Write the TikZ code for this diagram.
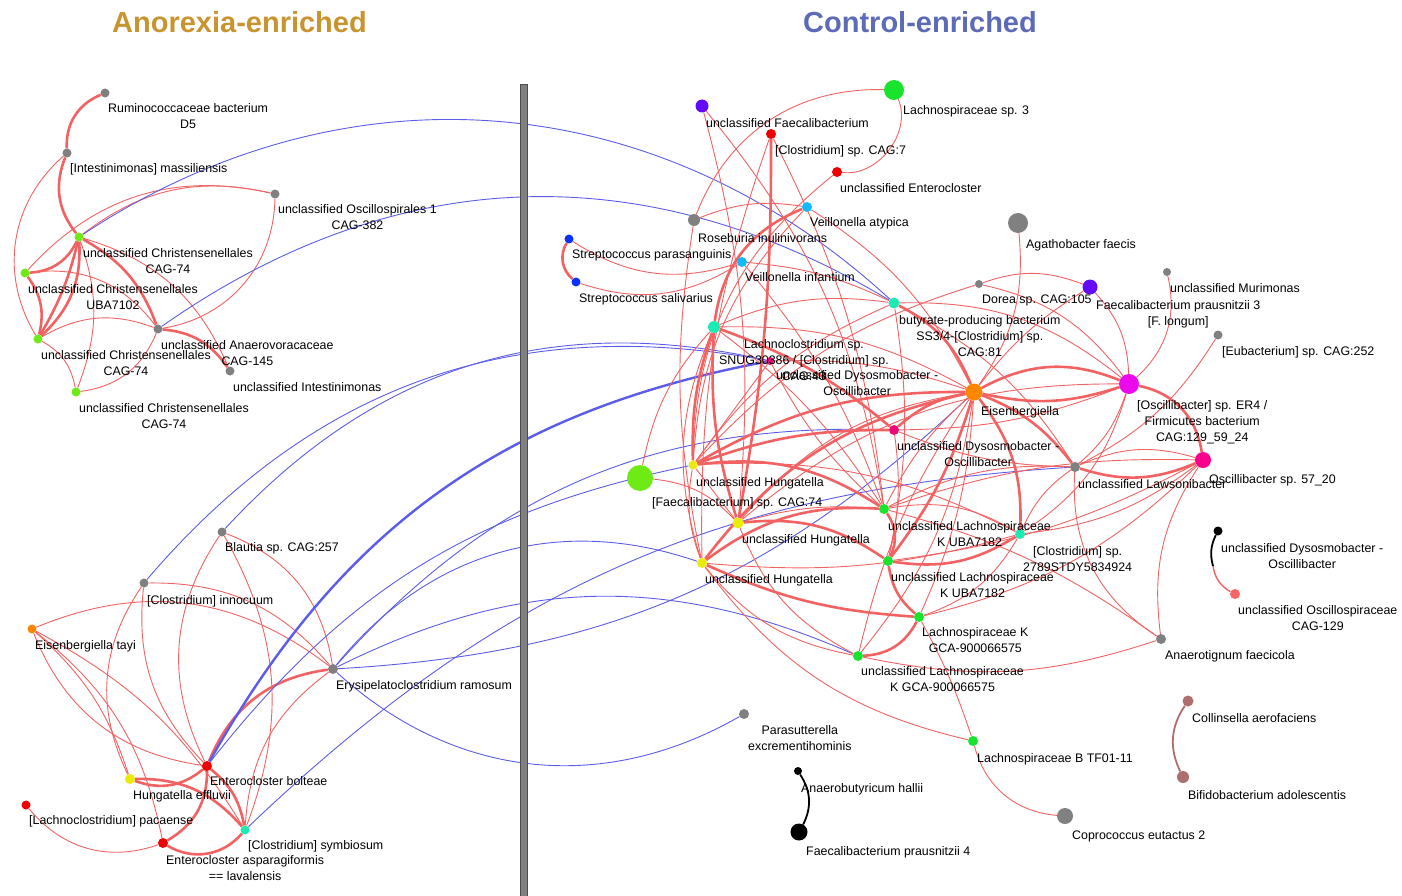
\documentclass[tikz,border=0pt]{standalone}
\usepackage{fontspec}
\setmainfont{Liberation Sans}
\newcommand\lblfont{\fontsize{12.4}{16}\selectfont}
\newcommand\ttlfont{\fontsize{29}{32}\selectfont\bfseries}
\definecolor{ngray}{RGB}{128,128,128}
\definecolor{nlime}{RGB}{110,235,20}
\definecolor{ngreen}{RGB}{25,228,45}
\definecolor{naqua}{RGB}{30,235,180}
\definecolor{nlblue}{RGB}{20,185,250}
\definecolor{nblue}{RGB}{10,50,250}
\definecolor{npurple}{RGB}{100,10,250}
\definecolor{nmag}{RGB}{235,10,235}
\definecolor{ndpink}{RGB}{250,0,140}
\definecolor{npink}{RGB}{235,10,120}
\definecolor{norange}{RGB}{255,135,0}
\definecolor{nyellow}{RGB}{235,235,10}
\definecolor{nred}{RGB}{240,0,0}
\definecolor{nsalmon}{RGB}{250,100,100}
\definecolor{nbrown}{RGB}{175,110,110}
\definecolor{tgold}{RGB}{200,148,48}
\definecolor{tblue}{RGB}{92,106,184}
\definecolor{edgered}{RGB}{242,98,98}
\definecolor{edgeblue}{RGB}{92,92,235}
\pgfdeclarelayer{edges}
\pgfsetlayers{edges,main}
\tikzset{
  nd/.style 2 args={circle, fill=#1, draw=none, inner sep=0pt, minimum size=#2},
  lab/.style={anchor=north west, align=center, inner sep=0pt, font=\lblfont, text height=9pt, yshift=4.5pt},
  labb/.style={lab, yshift=-16pt},
  labc/.style={lab, yshift=-32pt},
  ttl/.style={anchor=base, inner sep=0pt, font=\ttlfont},
  re/.style={draw=edgered, line width=0.9pt},
  reT/.style={draw=edgered, line width=2.6pt},
  be/.style={draw=edgeblue, line width=0.9pt},
  beT/.style={draw=edgeblue, line width=2.4pt},
  bke/.style={draw=black, line width=1.8pt},
  bre/.style={draw=nbrown, line width=1.8pt},
  divider/.style={fill=ngray, draw=black!70, line width=0.8pt},
}
\begin{document}
\begin{tikzpicture}[x=1pt,y=-1pt]
\useasboundingbox (0,0) rectangle (1402,896);
% titles
\node[ttl, text=tgold] (t1) at (239.5,33) {Anorexia-enriched};
\node[ttl, text=tblue] (t2) at (920,33) {Control-enriched};
% divider
\path[divider] (520,84) rectangle (527,897);
% ---------- left nodes
\node[nd={ngray}{9}] (rum) at (105,93) {};
\node[nd={ngray}{9}] (intm) at (67,153) {};
\node[nd={ngray}{9}] (osc1) at (275,194) {};
\node[nd={nlime}{9}] (chra) at (79,237) {};
\node[nd={nlime}{9}] (uba) at (25,273) {};
\node[nd={ngray}{9}] (anv) at (158,329) {};
\node[nd={nlime}{9}] (chrb) at (38,339) {};
\node[nd={ngray}{9}] (uint) at (230,371) {};
\node[nd={nlime}{9}] (chrc) at (76,392) {};
\node[nd={ngray}{9}] (blau) at (222,532) {};
\node[nd={ngray}{9}] (inno) at (144,583) {};
\node[nd={norange}{9}] (eist) at (32,629) {};
\node[nd={ngray}{10}] (erys) at (333,669) {};
\node[nd={nred}{10}] (entb) at (207,766) {};
\node[nd={nyellow}{10}] (heff) at (130,779) {};
\node[nd={nred}{9}] (lpac) at (26,805) {};
\node[nd={naqua}{9}] (symb) at (245,830) {};
\node[nd={nred}{10}] (easp) at (163,843) {};
% ---------- right nodes
\node[nd={npurple}{13}] (ufae) at (702,106) {};
\node[nd={ngreen}{20}] (lach3) at (894,90) {};
\node[nd={nred}{10}] (cc7) at (771,134) {};
\node[nd={nred}{10}] (uent) at (837,172) {};
\node[nd={nlblue}{10}] (veia) at (807,207) {};
\node[nd={ngray}{12}] (rose) at (694,220) {};
\node[nd={nblue}{9}] (strp) at (569,239) {};
\node[nd={nlblue}{10}] (veii) at (742,262) {};
\node[nd={nblue}{9}] (strs) at (576,282) {};
\node[nd={ngray}{8}] (dore) at (979,284) {};
\node[nd={naqua}{11}] (but) at (894,303) {};
\node[nd={ngray}{20}] (agat) at (1018,223) {};
\node[nd={npurple}{15}] (fp3) at (1090,287) {};
\node[nd={ngray}{8}] (muri) at (1167,272) {};
\node[nd={ngray}{9}] (eub) at (1218,335) {};
\node[nd={nmag}{20}] (oer4) at (1129,384) {};
\node[nd={ndpink}{16}] (o57) at (1203,460) {};
\node[nd={ngray}{10}] (law) at (1075,467) {};
\node[nd={norange}{17}] (eis) at (974,392) {};
\node[nd={npink}{10}] (pd2) at (894,430) {};
\node[nd={naqua}{12}] (lcl) at (714,327) {};
\node[nd={npink}{8}] (pd1) at (770,361) {};
\node[nd={nlime}{26}] (fc74) at (640,478) {};
\node[nd={nyellow}{9}] (h1) at (693,465) {};
\node[nd={nyellow}{11}] (h2) at (738,523) {};
\node[nd={nyellow}{10}] (h3) at (702,563) {};
\node[nd={ngreen}{10}] (lk1) at (884,509) {};
\node[nd={ngreen}{10}] (lk2) at (888,561) {};
\node[nd={naqua}{10}] (c27) at (1020,534) {};
\node[nd={ngreen}{10}] (lkg) at (919,617) {};
\node[nd={ngreen}{10}] (ulkg) at (858,656) {};
\node[nd={ngray}{10}] (atig) at (1161,639) {};
\node[nd={black}{9}] (dysb) at (1218,531) {};
\node[nd={nsalmon}{10}] (o129) at (1235,594) {};
\node[nd={ngray}{10}] (para) at (744,714) {};
\node[nd={ngreen}{10}] (lb) at (973,741) {};
\node[nd={black}{8}] (ahal) at (798,771) {};
\node[nd={black}{17}] (fp4) at (799,832) {};
\node[nd={ngray}{16}] (cope) at (1065,816) {};
\node[nd={nbrown}{11}] (coll) at (1188,701) {};
\node[nd={nbrown}{12}] (bifi) at (1183,777) {};
\coordinate (dmid) at (1213,566);
% ---------- labels
\node[labb] (lrum) at (108,108) {Ruminococcaceae bacterium\\D5};
\node[lab] (lintm) at (70,168) {[Intestinimonas] massiliensis};
\node[labb] (losc1) at (278,209) {unclassified Oscillospirales 1\\CAG-382};
\node[labb] (lchra) at (83,253) {unclassified Christensenellales\\CAG-74};
\node[labb] (luba) at (28,289) {unclassified Christensenellales\\UBA7102};
\node[labb] (lanv) at (161,345) {unclassified Anaerovoracaceae\\CAG-145};
\node[labb] (lchrb) at (41,355) {unclassified Christensenellales\\CAG-74};
\node[lab] (luint) at (233,387) {unclassified Intestinimonas};
\node[labb] (lchrc) at (79,408) {unclassified Christensenellales\\CAG-74};
\node[lab] (lblau) at (225,547) {Blautia sp. CAG:257};
\node[lab] (linno) at (147,600) {[Clostridium] innocuum};
\node[lab] (leist) at (35,645) {Eisenbergiella tayi};
\node[lab] (lerys) at (336,685) {Erysipelatoclostridium ramosum};
\node[lab] (lentb) at (210,781) {Enterocloster bolteae};
\node[lab] (lheff) at (133,795) {Hungatella effluvii};
\node[lab] (llpac) at (29,820) {[Lachnoclostridium] pacaense};
\node[lab] (lsymb) at (248,845) {[Clostridium] symbiosum};
\node[labb] (leasp) at (166,860) {Enterocloster asparagiformis\\== lavalensis};
\node[lab] (lufae) at (706,123) {unclassified Faecalibacterium};
\node[lab] (llach3) at (903,110) {Lachnospiraceae sp. 3};
\node[lab] (lcc7) at (775,150) {[Clostridium] sp. CAG:7};
\node[lab] (luent) at (840,188) {unclassified Enterocloster};
\node[lab] (lveia) at (810,222) {Veillonella atypica};
\node[lab] (lrose) at (698,238) {Roseburia inulinivorans};
\node[lab] (lstrp) at (572,254) {Streptococcus parasanguinis};
\node[lab] (lveii) at (745,277) {Veillonella infantium};
\node[lab] (lstrs) at (579,298) {Streptococcus salivarius};
\node[lab] (ldore) at (982,299) {Dorea sp. CAG:105};
\node[labc] (lbut) at (899,320) {butyrate-producing bacterium\\SS3/4-[Clostridium] sp.\\CAG:81};
\node[lab] (lagat) at (1026,244) {Agathobacter faecis};
\node[lab] (lmuri) at (1170,288) {unclassified Murimonas};
\node[labb] (lfp3) at (1096,305) {Faecalibacterium prausnitzii 3\\{[F. longum]}};
\node[lab] (leub) at (1222,351) {[Eubacterium] sp. CAG:252};
\node[labc] (loer4) at (1137,405) {[Oscillibacter] sp. ER4 /\\Firmicutes bacterium\\CAG:129\_59\_24};
\node[lab] (lo57) at (1209,479) {Oscillibacter sp. 57\_20};
\node[lab] (llaw) at (1078,484) {unclassified Lawsonibacter};
\node[lab] (leis) at (981,411) {Eisenbergiella};
\node[labb] (lpd2) at (897,446) {unclassified Dysosmobacter -\\Oscillibacter};
\node[labc] (llcl) at (719,344) {Lachnoclostridium sp.\\SNUG30386 / [Clostridium] sp.\\CAG:43};
\node[labb] (lpd1) at (776,375) {unclassified Dysosmobacter -\\Oscillibacter};
\node[lab] (lfc74) at (652,502) {[Faecalibacterium] sp. CAG:74};
\node[lab] (lh1) at (696,482) {unclassified Hungatella};
\node[lab] (lh2) at (742,539) {unclassified Hungatella};
\node[lab] (lh3) at (705,579) {unclassified Hungatella};
\node[labb] (llk1) at (888,526) {unclassified Lachnospiraceae\\K UBA7182};
\node[labb] (llk2) at (891,577) {unclassified Lachnospiraceae\\K UBA7182};
\node[labb] (lc27) at (1023,551) {[Clostridium] sp.\\2789STDY5834924};
\node[labb] (llkg) at (922,632) {Lachnospiraceae K\\GCA-900066575};
\node[labb] (lulkg) at (861,671) {unclassified Lachnospiraceae\\K GCA-900066575};
\node[lab] (latig) at (1165,655) {Anaerotignum faecicola};
\node[labb] (ldysb) at (1221,548) {unclassified Dysosmobacter -\\Oscillibacter};
\node[labb] (lo129) at (1238,610) {unclassified Oscillospiraceae\\CAG-129};
\node[labb] (lpara) at (748,730) {Parasutterella\\excrementihominis};
\node[lab] (llb) at (977,758) {Lachnospiraceae B TF01-11};
\node[lab] (lahal) at (801,788) {Anaerobutyricum hallii};
\node[lab] (lfp4) at (806,851) {Faecalibacterium prausnitzii 4};
\node[lab] (lcope) at (1072,835) {Coprococcus eutactus 2};
\node[lab] (lcoll) at (1192,718) {Collinsella aerofaciens};
\node[lab] (lbifi) at (1188,795) {Bifidobacterium adolescentis};
% ---------- edges
\begin{pgfonlayer}{edges}
% left top cluster
\draw[reT] (rum) to[bend right=35] (intm);
\draw[reT] (intm) to[bend right=30] (chra);
\draw[re] (intm) to[bend right=40] (chrb);
\draw[re] (osc1) to[bend right=30] (uba);
\draw[re] (osc1) to[bend right=25] (chra);
\draw[re] (osc1) to[bend left=40] (anv);
\draw[reT] (chra) to[bend left=30] (uba);
\draw[reT] (chra) to[bend left=25] (chrb);
\draw[reT] (chra) to[bend left=8] (chrb);
\draw[reT] (uba) to[bend left=25] (chrb);
\draw[reT] (chra) to[bend left=20] (anv);
\draw[re] (chra) to[bend left=25] (uint);
\draw[re] (uba) to[bend left=30] (anv);
\draw[re] (chrb) to[bend left=25] (anv);
\draw[re] (chrb) to[bend left=25] (chrc);
\draw[re] (chra) to[bend left=20] (chrc);
\draw[re] (anv) to[bend left=30] (chrc);
\draw[reT] (anv) to[bend left=25] (uint);
% left bottom cluster
\draw[re] (blau) to[bend left=30] (erys);
\draw[re] (blau) to[bend left=25] (symb);
\draw[re] (blau) to[bend right=30] (entb);
\draw[re] (inno) to[bend left=25] (erys);
\draw[re] (inno) to[bend right=30] (heff);
\draw[re] (inno) to[bend right=25] (entb);
\draw[re] (eist) to[bend left=30] (erys);
\draw[re] (eist) to[bend right=30] (entb);
\draw[re] (eist) to[bend left=15] (heff);
\draw[re] (eist) to[bend left=20] (easp);
\draw[re] (eist) to[bend left=15] (symb);
\draw[reT] (entb) to[bend left=30] (erys);
\draw[re] (symb) to[bend left=25] (erys);
\draw[reT] (heff) to[bend right=30] (entb);
\draw[reT] (heff) to[bend left=25] (symb);
\draw[reT] (entb) to[bend left=30] (easp);
\draw[reT] (entb) to[bend left=20] (symb);
\draw[reT] (easp) to[bend right=40] (symb);
\draw[re] (lpac) to[bend right=35] (easp);
% blue inter-panel edges
\draw[be] (chra) to[bend left=38] (but);
\draw[be] (anv) to[bend left=33] (but);
\draw[be] (inno) to[bend left=30] (pd1);
\draw[be] (blau) to[bend left=30] (pd1);
\draw[beT] (entb) to[bend left=25] (pd1);
\draw[be] (entb) to[bend left=20] (h1);
\draw[be] (symb) to[bend left=20] (law);
\draw[be] (erys) to[bend right=20] (eis);
\draw[be] (erys) to[bend left=25] (pd2);
\draw[be] (erys) to[bend left=35] (h3);
\draw[be] (erys) to[bend left=25] (ulkg);
\draw[be] (erys) to[bend right=36] (para);
% right cluster periphery
\draw[re] (lach3) to[bend right=35] (rose);
\draw[re] (lach3) to[bend left=60] (uent);
\draw[re] (ufae) to[bend left=10] (h2);
\draw[re] (ufae) to[bend left=15] (lk1);
\draw[reT] (cc7) to[bend left=5] (h2);
\draw[re] (cc7) to[bend left=10] (lk1);
\draw[re] (cc7) to[bend right=10] (h3);
\draw[re] (uent) to[bend right=25] (h1);
\draw[reT] (veia) to[bend right=30] (lcl);
\draw[re] (veia) to[bend right=15] (rose);
\draw[re] (veia) to[bend left=15] (eis);
\draw[re] (veia) to[bend right=20] (h1);
\draw[reT] (strp) to[bend right=40] (strs);
\draw[re] (strp) to[bend right=25] (veii);
\draw[re] (strs) to[bend right=25] (veii);
\draw[re] (veii) to[bend left=10] (but);
\draw[re] (veii) to[bend left=10] (lk1);
\draw[re] (rose) to[bend right=10] (h3);
\draw[re] (dore) to[bend left=20] (oer4);
\draw[re] (dore) to[bend right=15] (h1);
\draw[re] (agat) to[bend left=20] (eis);
\draw[re] (fp3) to[bend left=20] (oer4);
\draw[re] (fp3) to[bend right=20] (dore);
\draw[re] (fp3) to[bend right=10] (eis);
\draw[re] (muri) to[bend left=30] (oer4);
\draw[re] (eub) to[bend left=15] (law);
\draw[reT] (oer4) to[bend left=35] (o57);
\draw[reT] (oer4) to[bend right=25] (eis);
\draw[reT] (oer4) to[bend left=15] (eis);
\draw[re] (oer4) to[bend left=15] (law);
\draw[re] (oer4) to[bend right=20] (but);
\draw[re] (oer4) to[bend left=10] (pd2);
\draw[reT] (o57) to[bend left=20] (law);
\draw[re] (o57) to[bend right=20] (law);
\draw[re] (o57) to[bend left=15] (c27);
\draw[re] (o57) to[bend left=10] (lk2);
\draw[re] (o57) to[bend right=20] (atig);
\draw[re] (o57) to[bend left=15] (lkg);
\draw[re] (atig) to[bend left=30] (law);
\draw[re] (atig) to[bend left=15] (ulkg);
\draw[re] (atig) to[bend right=10] (lk1);
\draw[re] (lb) to[bend right=5] (lkg);
\draw[re] (lb) to[bend left=20] (h3);
\draw[re] (lb) to[bend right=35] (cope);
\draw[re] (fc74) to[bend left=15] (lcl);
\draw[re] (fc74) to[bend left=20] (h2);
% right cluster core
\draw[reT] (h1) to[bend left=10] (lcl);
\draw[reT] (h1) to[bend left=15] (eis);
\draw[re] (h1) to[bend left=15] (but);
\draw[reT] (h1) to[bend left=20] (lk1);
\draw[reT] (h1) to[bend left=10] (pd2);
\draw[re] (h1) to[bend left=15] (c27);
\draw[re] (h1) to (h2);
\draw[reT] (h2) to[bend left=20] (lk2);
\draw[re] (h2) to[bend left=20] (eis);
\draw[re] (h2) to[bend left=10] (lk1);
\draw[re] (h2) to[bend left=20] (oer4);
\draw[reT] (h3) to[bend left=20] (lk1);
\draw[reT] (h3) to[bend right=10] (lkg);
\draw[re] (h3) to[bend right=20] (ulkg);
\draw[reT] (h3) to[bend left=20] (eis);
\draw[re] (h3) to[bend right=10] (c27);
\draw[re] (h3) to[bend left=15] (h1);
\draw[re] (lcl) to[bend left=15] (eis);
\draw[reT] (lcl) to[bend left=10] (pd2);
\draw[re] (lcl) to[bend left=10] (lk1);
\draw[reT] (lcl) to[bend right=10] (h2);
\draw[re] (lcl) to[bend right=20] (h3);
\draw[re] (lcl) to[bend left=15] (but);
\draw[reT] (but) to[bend left=20] (eis);
\draw[re] (but) to[bend left=10] (lk2);
\draw[re] (but) to[bend left=15] (law);
\draw[re] (eis) to[bend right=10] (lk1);
\draw[reT] (eis) to[bend left=10] (lk2);
\draw[reT] (eis) to[bend left=20] (c27);
\draw[reT] (eis) to[bend left=15] (law);
\draw[reT] (eis) to[bend right=15] (pd2);
\draw[re] (eis) to[bend right=10] (ulkg);
\draw[re] (pd2) to[bend right=10] (law);
\draw[re] (pd2) to[bend left=10] (lk2);
\draw[re] (pd1) to[bend right=10] (lk1);
\draw[re] (pd1) to[bend left=10] (eis);
\draw[re] (pd1) to (h1);
\draw[reT] (lk1) to[bend left=30] (lk2);
\draw[re] (lk1) to[bend left=20] (c27);
\draw[re] (lk1) to[bend left=10] (o57);
\draw[reT] (lk2) to[bend right=20] (lkg);
\draw[reT] (lk2) to[bend right=20] (c27);
\draw[reT] (lkg) to[bend left=30] (ulkg);
\draw[re] (c27) to[bend left=15] (law);
\draw[re] (c27) to[bend right=20] (oer4);
\draw[re] (ulkg) to[bend left=20] (h2);
\draw[re] (ulkg) to[bend right=15] (eis);
\draw[re] (lkg) to[bend right=10] (eis);
\draw[re] (lk1) to[bend left=15] (law);
\draw[re] (lkg) to[bend right=20] (c27);
% isolated pairs
\draw[bke] (dysb) to[bend right=20] (dmid);
\draw[re, line width=1.4pt] (dmid) to[bend right=25] (o129);
\draw[bke] (ahal) to[bend left=30] (fp4);
\draw[bre] (coll) to[bend right=30] (bifi);
\end{pgfonlayer}
\end{tikzpicture}
\end{document}
